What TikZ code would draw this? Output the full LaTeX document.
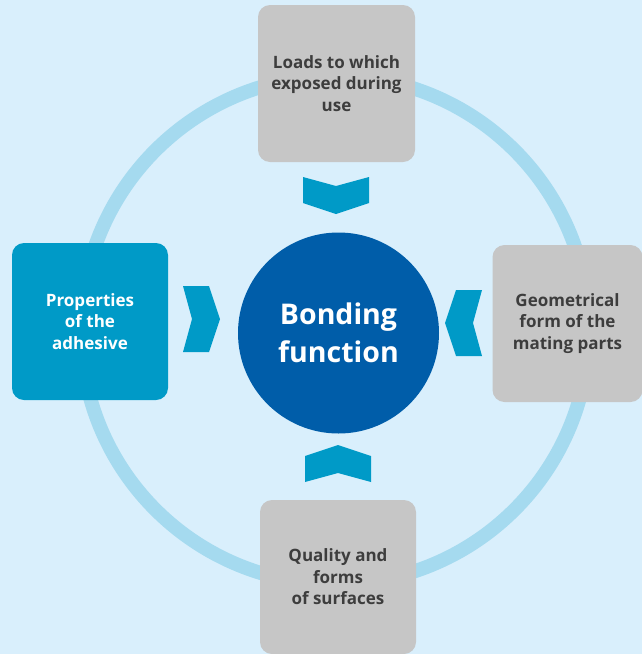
\documentclass[tikz,border=0pt]{standalone}
\usepackage{fontspec}
\setmainfont{Open Sans}
\usepackage{xcolor}
\usepackage{tikz}
\usetikzlibrary{positioning}
\definecolor{bgblue}{HTML}{D9EFFC}
\definecolor{ringblue}{HTML}{A5DAEF}
\definecolor{boxgrey}{HTML}{C6C6C6}
\definecolor{adhblue}{HTML}{009AC7}
\definecolor{coreblue}{HTML}{005DA9}
\definecolor{textgrey}{HTML}{3D3D3D}
\tikzstyle{factor} = [rectangle, rounded corners=12pt,
    minimum width=157pt, minimum height=157pt,
    align=center, inner sep=0pt,
    font=\bfseries\fontsize{17}{21.5}\selectfont]
\tikzstyle{greyfactor} = [factor, fill=boxgrey, text=textgrey]
\tikzstyle{bluefactor} = [factor, fill=adhblue, text=white]
\tikzstyle{core}       = [circle, fill=coreblue, minimum size=201pt,
    inner sep=0pt, text=white, align=center,
    font=\bfseries\fontsize{28.5}{38}\selectfont]
\tikzstyle{ring}       = [draw=ringblue, line width=14pt]
\tikzstyle{chevron}    = [fill=adhblue]

\begin{document}
\begin{tikzpicture}[x=1pt, y=-1pt]

  % Background
  \fill[bgblue] (0,0) rectangle (642,654);
  \useasboundingbox (0,0) rectangle (642,654);

  % Ring
  \draw[ring] (335,330) circle[radius=254pt];

  % Centre
  \node[core] (bond) at (338.5,333) {Bonding\\function};

  % Factors
  \node[greyfactor] (load) at (336.5,83.5) {Loads to which\\exposed during\\use};
  \node[bluefactor, minimum width=156pt] (adhesive) at (90,321.5) {Properties\\of the\\adhesive};
  \node[greyfactor, minimum width=150pt] (geometry) at (567.5,323.5) {Geometrical\\form of the\\mating parts};
  \node[greyfactor, minimum width=156pt, minimum height=154pt] (surface) at (338,577) {Quality and\\forms\\of surfaces};

  % Chevrons
  \foreach \cx/\cy/\ang in {336/195/0, 338/464/180, 201/319/90, 464/323/-90}
    \fill[chevron, shift={(\cx,\cy)}, rotate=\ang]
      (-33,-18) -- (0,-9) -- (33,-18) -- (33,8) -- (0,19) -- (-33,8) -- cycle;
\end{tikzpicture}
\end{document}
